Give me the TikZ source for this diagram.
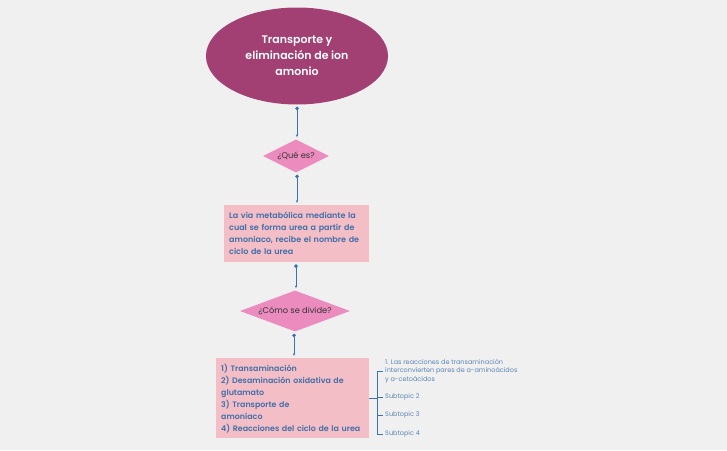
\documentclass[tikz,border=0pt]{standalone}
\usepackage{fontspec}
\setmainfont{Poppins}[BoldFont={Poppins SemiBold}]
\usetikzlibrary{shapes.geometric,arrows.meta}
\definecolor{bgcol}{HTML}{F0F0F0}
\definecolor{topcol}{HTML}{A23F73}
\definecolor{diacol}{HTML}{EC8CBE}
\definecolor{boxcol}{HTML}{F4BEC7}
\definecolor{txtblue}{HTML}{3F6FA8}
\definecolor{linecol}{HTML}{3D72B0}

\begin{document}
\begin{tikzpicture}[x=1pt, y=1pt,
    block_top/.style ={ellipse, draw=none, fill=topcol, text=white,
      font=\fontsize{11}{16}\selectfont\bfseries, align=center,
      minimum width=182pt, minimum height=97pt, inner sep=0pt},
    block_question/.style ={diamond, draw=none, fill=diacol, text=black!80,
      font=\fontsize{8.3}{9}\selectfont, inner sep=0pt},
    block_text/.style ={rectangle, draw=none, fill=boxcol, text=txtblue,
      font=\fontsize{8}{12}\selectfont\bfseries, align=left,
      inner sep=0pt, anchor=north west},
    block_sub/.style ={rectangle, draw=none, text=txtblue!85,
      font=\fontsize{6.5}{8.4}\selectfont, align=left,
      inner sep=0pt, anchor=west},
    line/.style ={draw=linecol, line width=1pt, {Circle[length=3.5pt]}-{Stealth[length=3pt]},
      shorten <=2pt, shorten >=2pt},
    branch/.style ={draw=linecol, semithick}]
  % background and margins
  \fill[bgcol] (0,0) rectangle (727,-450);
  \useasboundingbox (0,0) rectangle (727,-450);
  % main column
  \node [block_top] (topic) at (297,-56) {Transporte y\\eliminación de ion\\amonio};
  \node [block_question, aspect=2, minimum width=66pt, minimum height=33pt] (quees) at (296,-156) {¿Qué es?};
  \node [block_text, minimum width=145pt, minimum height=57pt, text width=145pt] (definicion) at (224,-205)
    {\hspace*{5pt}\parbox[c][57pt][c]{138pt}{La via metabólica mediante la\\cual se forma urea a partir de\\amoniaco, recibe el nombre de\\ciclo de la urea}};
  \node [block_question, aspect=2.7, minimum width=110pt, minimum height=41pt] (comodivide) at (295,-311) {¿Cómo se divide?};
  \node [block_text, font=\fontsize{7.9}{12}\selectfont\bfseries, minimum width=153pt,
    minimum height=80pt, text width=153pt] (etapas) at (216,-358)
    {\hspace*{5pt}\parbox[c][80pt][c]{146pt}{1) Transaminación\\2) Desaminación oxidativa de\\glutamato\\3) Transporte de\\amoníaco\\4) Reacciones del ciclo de la urea}};
  % subtopics
  \coordinate (fork) at (377,-398);
  \node [block_sub] (sub1) at (385,-371) {1. Las reacciones de transaminación\\interconvierten pares de a-aminoácidos\\y a-cetoácidos};
  \node [block_sub] (sub2) at (385,-397) {Subtopic 2};
  \node [block_sub] (sub3) at (385,-415) {Subtopic 3};
  \node [block_sub] (sub4) at (385,-434) {Subtopic 4};
  % connecting nodes with paths
  \begin{scope}[every path/.style=line]
    \path (topic.south) -- (topic.south |- quees.north);
    \path (quees.south -| topic) -- (definicion.north -| topic);
    \path (definicion.south -| 296,0) -- (comodivide.north -| 296,0);
    \path (comodivide.south -| 294,0) -- (etapas.north -| 294,0);
  \end{scope}
  \begin{scope}[every path/.style=branch]
    \path (etapas.east |- fork) -- (fork);
    \path (fork) |- ([xshift=-2pt]sub1.west);
    \path (fork) |- ([xshift=-2pt]sub2.west);
    \path (fork) |- ([xshift=-2pt]sub3.west);
    \path (fork) |- ([xshift=-2pt]sub4.west);
  \end{scope}
\end{tikzpicture}
\end{document}
